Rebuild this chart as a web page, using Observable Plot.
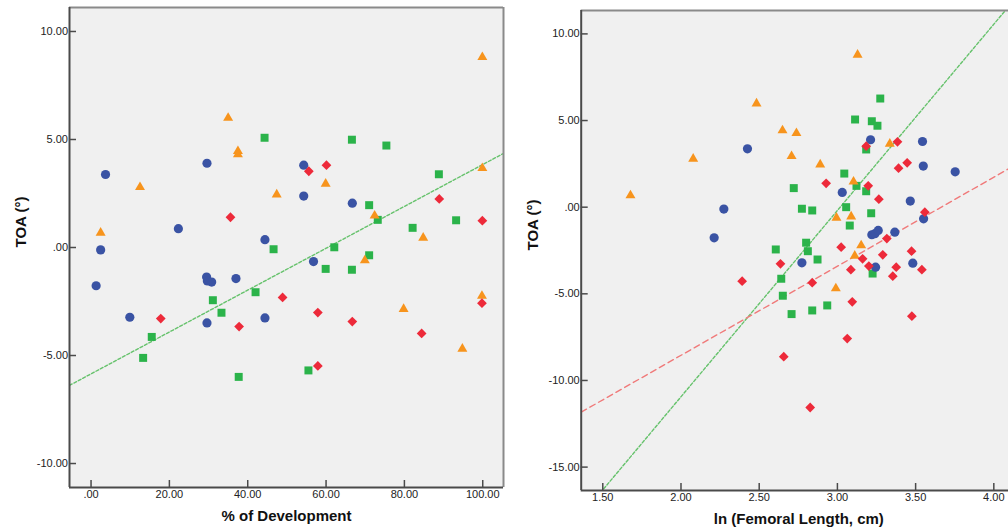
<!DOCTYPE html>
<html><head><meta charset="utf-8">
<script src="https://cdn.jsdelivr.net/npm/d3@7"></script>
<script src="https://cdn.jsdelivr.net/npm/@observablehq/plot@0.6"></script>
<style>
html,body{margin:0;padding:0;background:#fff;overflow:hidden;}
#wrap{position:relative;width:1008px;height:531px;overflow:hidden;}
#left{position:absolute;left:0;top:0;width:512px;height:531px;}
#right{position:absolute;left:512px;top:0;width:508px;height:531px;}
#wrap svg{max-width:none !important;display:block;}
</style></head><body><div id="wrap"><div id="left"></div><div id="right"></div></div>
<script>
// ---------- Left panel: % of Development vs TOA ----------
const devBluePct = [3.7, 29.6, 22.3, 2.45, 54.3, 54.3, 66.7, 44.4, 56.8, 1.3, 29.5, 29.7, 30.8, 37.0, 9.9, 29.6, 44.4];
const devBlueToa = [3.38, 3.90, 0.87, -0.11, 3.81, 2.38, 2.05, 0.36, -0.65, -1.77, -1.37, -1.55, -1.60, -1.44, -3.23, -3.49, -3.26];
const devGreenPct = [44.3, 66.6, 75.4, 88.8, 71.0, 73.2, 93.2, 82.1, 46.6, 62.1, 71.0, 59.9, 66.6, 31.1, 42.0, 33.3, 15.5, 13.3, 37.7, 55.5];
const devGreenToa = [5.08, 4.99, 4.72, 3.39, 1.96, 1.28, 1.26, 0.91, -0.08, 0.01, -0.36, -0.99, -1.03, -2.44, -2.07, -3.02, -4.14, -5.11, -5.99, -5.69];
const devOrangePct = [12.5, 35.0, 37.5, 37.5, 2.45, 99.9, 99.9, 59.9, 47.4, 72.4, 84.8, 69.9, 79.8, 99.8, 94.8];
const devOrangeToa = [2.79, 6.00, 4.46, 4.31, 0.68, 8.81, 3.67, 2.95, 2.45, 1.47, 0.45, -0.60, -2.85, -2.24, -4.69];
const devRedPct = [35.6, 55.6, 60.1, 88.9, 99.9, 17.8, 37.8, 48.9, 57.9, 66.7, 99.8, 84.4, 57.9];
const devRedToa = [1.40, 3.53, 3.81, 2.25, 1.24, -3.29, -3.66, -2.31, -3.01, -3.43, -2.58, -3.98, -5.48];
const devFit = {intercept: -5.85, slope: 0.0969};
const devXTicks = [0, 20, 40, 60, 80, 100];
const devYTicks = [-10, -5, 0, 5, 10];
const devXDomain = [-5.5, 105.3];
const devYDomain = [-11.11, 11.11];

// ---------- Right panel: ln(Femoral Length) vs TOA ----------
const lnBlueX = [2.425, 2.274, 2.212, 3.212, 3.544, 3.549, 3.753, 3.031, 3.466, 3.551, 3.220, 3.240, 3.261, 3.367, 2.773, 3.244, 3.482];
const lnBlueToa = [3.37, -0.11, -1.77, 3.89, 3.79, 2.37, 2.04, 0.85, 0.35, -0.67, -1.59, -1.53, -1.34, -1.44, -3.21, -3.46, -3.23];
const lnGreenX = [3.274, 3.113, 3.220, 3.256, 3.184, 3.044, 3.122, 3.184, 2.721, 2.773, 2.839, 3.056, 3.079, 3.216, 2.800, 2.811, 2.606, 2.873, 3.225, 2.641, 2.651, 2.707, 2.839, 2.935];
const lnGreenToa = [6.27, 5.06, 4.96, 4.70, 3.33, 1.94, 1.23, 0.92, 1.10, -0.09, -0.19, 0.00, -1.06, -0.35, -2.05, -2.54, -2.44, -3.02, -3.83, -4.13, -5.11, -6.17, -5.96, -5.67];
const lnOrangeX = [1.677, 2.078, 2.483, 3.129, 2.649, 2.738, 3.335, 2.707, 2.890, 3.103, 2.994, 3.088, 3.152, 3.111, 2.990];
const lnOrangeToa = [0.68, 2.79, 5.98, 8.79, 4.43, 4.27, 3.66, 2.94, 2.46, 1.47, -0.61, -0.54, -2.21, -2.81, -4.69];
const lnRedX = [3.184, 3.384, 3.446, 3.391, 2.928, 3.197, 3.265, 3.559, 3.316, 3.024, 3.474, 3.290, 3.161, 2.636, 3.201, 3.376, 3.540, 3.086, 3.354, 2.839, 3.095, 3.476, 3.063, 2.657, 2.826, 2.391];
const lnRedToa = [3.52, 3.77, 2.56, 2.25, 1.38, 1.23, 0.46, -0.29, -1.81, -2.31, -2.54, -2.75, -2.98, -3.27, -3.40, -3.46, -3.61, -3.61, -3.98, -4.36, -5.46, -6.29, -7.58, -8.63, -11.56, -4.27];
const lnFitGreen = {intercept: -32.44, slope: 10.75};
const lnFitRed = {intercept: -18.83, slope: 5.14};
const lnXTicks = [1.5, 2.0, 2.5, 3.0, 3.5, 4.0];
const lnYTicks = [-15, -10, -5, 0, 5, 10];
const lnXDomain = [1.362, 4.145];
const lnYDomain = [-16.35, 11.35];

const COLORS = {blue: "#3a53a4", green: "#2bb34a", orange: "#f7941d", red: "#ed2a3a"};
const fmt = d => d.toFixed(2).replace(/^(-?)0\./, "$1.");
const zip = (xs, ys) => xs.map((x, i) => ({x, y: ys[i]}));
const fitPts = (f, dom) => dom.map(x => ({x, y: f.intercept + f.slope * x}));

function panel({width, marginLeft, marginRight, marginTop, marginBottom, xDomain, yDomain, xTicks, yTicks, xLabel, series, fits}) {
  const marks = [
    Plot.frame({fill: "#f0f0f0", stroke: null}),
  ];
  for (const f of fits) {
    marks.push(Plot.line(fitPts(f.fit, xDomain), {x: "x", y: "y", stroke: f.stroke, strokeWidth: 1.4, strokeDasharray: f.dash, clip: true}));
  }
  for (const s of series) {
    marks.push(Plot.dot(zip(s.x, s.y), {x: "x", y: "y", symbol: s.symbol, r: s.r, fill: COLORS[s.color], stroke: null}));
  }
  marks.push(
    Plot.ruleY([yDomain[1]], {stroke: "#8a8a8a", strokeWidth: 2}),
    Plot.ruleX([xDomain[1]], {stroke: "#8a8a8a", strokeWidth: 2}),
    Plot.ruleX([xDomain[0]], {stroke: "#4a4a4a", strokeWidth: 2}),
    Plot.ruleY([yDomain[0]], {stroke: "#4a4a4a", strokeWidth: 2}),
    Plot.axisX({ticks: xTicks, tickFormat: fmt, tickSize: -7, tickPadding: 10, label: null, stroke: "#4a4a4a", strokeWidth: 1.5, fill: "#222"}),
    Plot.axisY({ticks: yTicks, tickFormat: fmt, tickSize: -7, tickPadding: 8.5, label: null, stroke: "#4a4a4a", strokeWidth: 1.5, fill: "#222"}),
    Plot.text([xLabel], {text: d => d, frameAnchor: "bottom", dy: 33, fontSize: 15, fontWeight: "bold", fill: "#111"}),
    Plot.text(["TOA (°)"], {text: d => d, frameAnchor: "left", rotate: -90, dx: -48, fontSize: 15, fontWeight: "bold", fill: "#111"})
  );
  return Plot.plot({
    width, height: 531, marginLeft, marginRight, marginTop, marginBottom,
    x: {domain: xDomain}, y: {domain: yDomain},
    style: {fontFamily: "'Liberation Sans', Arial, sans-serif", fontSize: "11px", background: "transparent", overflow: "visible"},
    marks
  });
}

document.getElementById("left").append(panel({
  width: 512, marginLeft: 69, marginRight: 9, marginTop: 7, marginBottom: 44,
  xDomain: devXDomain, yDomain: devYDomain, xTicks: devXTicks, yTicks: devYTicks,
  xLabel: "% of Development",
  series: [
    {x: devGreenPct, y: devGreenToa, symbol: "square", r: 4.5, color: "green"},
    {x: devBluePct, y: devBlueToa, symbol: "circle", r: 4.6, color: "blue"},
    {x: devOrangePct, y: devOrangeToa, symbol: "triangle", r: 3.7, color: "orange"},
    {x: devRedPct, y: devRedToa, symbol: "diamond2", r: 4.4, color: "red"}
  ],
  fits: [{fit: devFit, stroke: "#66c26c", dash: "3,2"}]
}));

document.getElementById("right").append(panel({
  width: 508, marginLeft: 68.7, marginRight: 4, marginTop: 10, marginBottom: 41,
  xDomain: lnXDomain, yDomain: lnYDomain, xTicks: lnXTicks, yTicks: lnYTicks,
  xLabel: "ln (Femoral Length, cm)",
  series: [
    {x: lnGreenX, y: lnGreenToa, symbol: "square", r: 4.5, color: "green"},
    {x: lnBlueX, y: lnBlueToa, symbol: "circle", r: 4.6, color: "blue"},
    {x: lnOrangeX, y: lnOrangeToa, symbol: "triangle", r: 3.7, color: "orange"},
    {x: lnRedX, y: lnRedToa, symbol: "diamond2", r: 4.4, color: "red"}
  ],
  fits: [
    {fit: lnFitGreen, stroke: "#66c26c", dash: "3,2"},
    {fit: lnFitRed, stroke: "#f07a7a", dash: "6,4"}
  ]
}));
</script></body></html>
